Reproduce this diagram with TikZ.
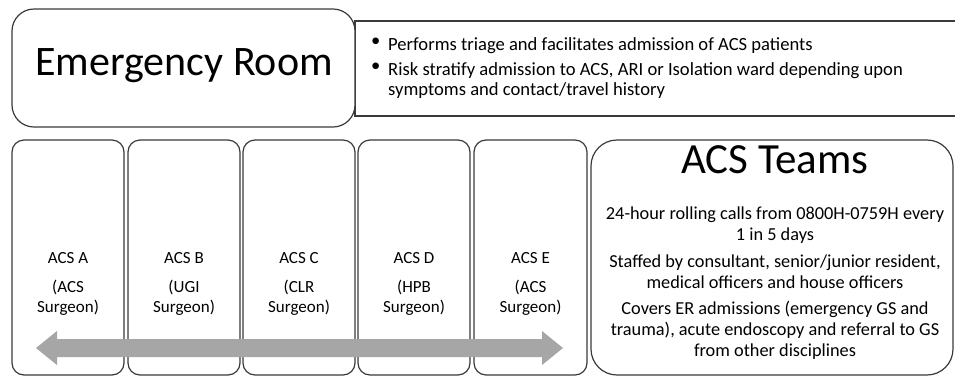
\documentclass[tikz,border=0pt]{standalone}
\usepackage{fontspec}
\setmainfont{Carlito}
\definecolor{linegray}{HTML}{3A3A3A}
\definecolor{arrowgray}{HTML}{A6A6A6}
\tikzset{
  box/.style={draw=linegray, line width=1.2pt, fill=white},
  small/.style={font=\fontsize{17}{20}\selectfont, align=center, inner sep=0pt, text=black},
  body/.style={font=\fontsize{18.3}{21}\selectfont, align=center, inner sep=0pt, text=black},
  bul/.style={font=\fontsize{18.6}{20}\selectfont, align=left, inner sep=0pt, anchor=north west, text=black},
}
\begin{document}
\begin{tikzpicture}[x=1pt,y=-1pt]
\useasboundingbox (0,0) rectangle (955,376);
% bullet box
\draw[box] (355,21) rectangle (960,116);
% Emergency room
\draw[box, rounded corners=22pt] (12,9) rectangle (355,127);
\node[inner sep=0pt, font=\fontsize{42}{48}\selectfont] (er) at (184,66) {Emergency Room};
% bullets
\node[bul] (b1) at (371,37.5) {\textbullet};
\node[bul] (t1) at (388,37.5) {Performs triage and facilitates admission of ACS patients};
\node[bul] (b2) at (371,62.5) {\textbullet};
\node[bul] (t2) at (388,62.5) {Risk stratify admission to ACS, ARI or Isolation ward depending upon\\symptoms and contact/travel history};
% team boxes
\foreach \n/\xa/\xb/\lab/\sub in {A/12/124/ACS A/ACS, B/128/240/ACS B/UGI, C/243/355/ACS C/CLR, D/358/470/ACS D/HPB, E/474/587/ACS E/ACS}{
  \draw[box, rounded corners=12pt] (\xa,140) rectangle (\xb,375);
  \node[small] (t\n) at ({(\xa+\xb)/2},284) {\lab\\[9pt](\sub\\Surgeon)};
}
% ACS Teams
\draw[box, rounded corners=26pt] (591,140) rectangle (953,375);
\node[inner sep=0pt, font=\fontsize{43}{50}\selectfont] (title) at (775,160) {ACS Teams};
\node[body] (p1) at (775,225.5) {24-hour rolling calls from 0800H-0759H every\\1 in 5 days};
\node[body] (p2) at (775,272) {Staffed by consultant, senior/junior resident,\\medical officers and house officers};
\node[body] (p3) at (775,330) {Covers ER admissions (emergency GS and\\trauma), acute endoscopy and referral to GS\\from other disciplines};
% double arrow
\coordinate (la) at (36,348);
\coordinate (ra) at (563,348);
\fill[arrowgray] (la) -- (57,331) -- (57,339) -- (542,339) -- (542,331) -- (ra) -- (542,365) -- (542,357) -- (57,357) -- (57,365) -- cycle;
\end{tikzpicture}
\end{document}
